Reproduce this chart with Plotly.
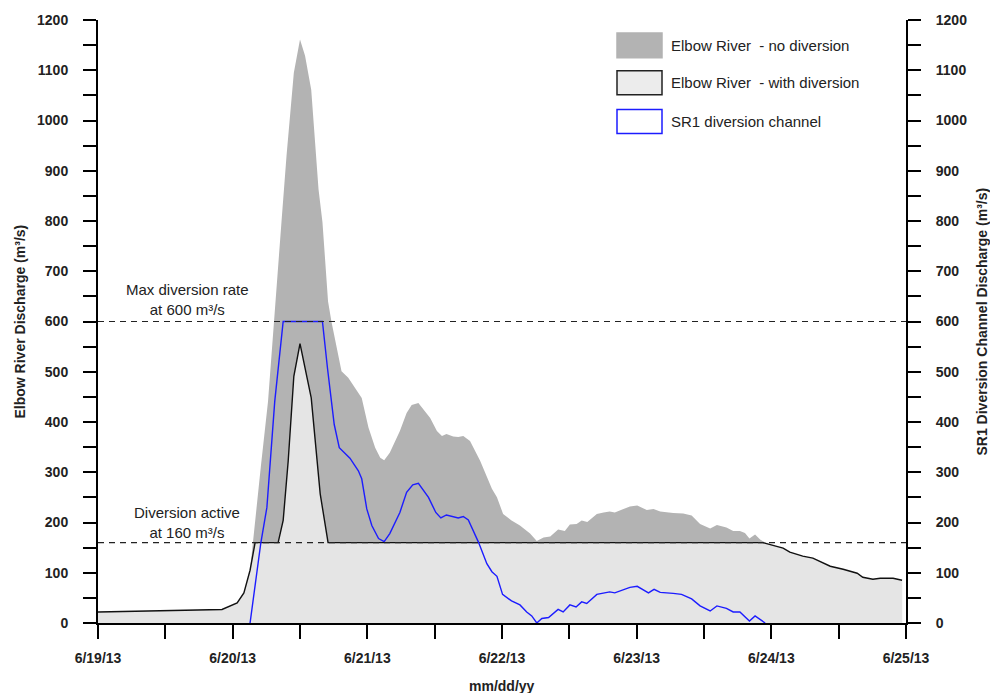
import pandas as pd
import plotly.graph_objects as go

BASE = pd.Timestamp("2013-06-19 00:00")

# Elbow River - no diversion (hours after 6/19/13 00:00, m3/s)
nodiv_hours = [0, 11, 22.1, 24.8, 26, 27.1, 27.6, 29, 30.3, 31.7, 32.7, 33.6, 34.7, 34.9, 36,
               36.9, 38, 39.3, 40, 41, 41.6, 42.5, 43.4, 44.6, 45.8, 47, 48.2, 49.4, 50.3, 51,
               52, 53.8, 55, 55.9, 57.1, 59.2, 60.4, 61.3, 62.1, 63.3, 64.2, 65.1, 66.3, 68.1,
               70.2, 71.1, 72.2, 73.7, 75.2, 77, 78.2, 79.4, 80.6, 82, 83.2, 84.1, 85.3, 86.2,
               87.2, 88.9, 90.1, 91.2, 92.1, 93.6, 94.8, 96.1, 97.8, 99, 100.2, 102.5, 104.3,
               105.8, 107.3, 109.1, 110.3, 112, 113.2, 114.4, 115.3, 116.1, 117.1, 118, 118.9,
               120.3, 122.1, 123.3, 125.6, 127.4, 130.5, 132.8, 135.3, 136.3, 138.1, 139.4,
               141.7, 143.3]
nodiv_vals = [22, 24, 27, 40, 60, 105, 160, 309, 441, 640, 798, 930, 1061, 1095, 1161,
              1129, 1061, 863, 798, 640, 600, 547, 501, 488, 468, 448, 389, 349, 329, 324,
              339, 382, 418, 434, 438, 408, 382, 372, 376, 371, 370, 372, 362, 323,
              267, 250, 217, 204, 194, 178, 163, 170, 172, 186, 183, 196, 197, 204,
              201, 217, 220, 222, 220, 227, 232, 234, 225, 227, 222, 219, 218,
              214, 197, 188, 195, 190, 183, 183, 179, 168, 176, 166, 160,
              154, 149, 141, 133, 129, 113, 107, 99, 91, 87, 89,
              89, 85]

# Elbow River - with diversion
withdiv_hours = [0, 11, 22.1, 24.8, 26, 27.1, 28, 32.1, 33, 33.9, 34.9, 36, 38, 39.6, 41,
                 118.5, 120.3, 122.1, 123.3, 125.6, 127.4, 130.5, 132.8, 135.3, 136.3, 138.1,
                 139.4, 141.7, 143.3]
withdiv_vals = [22, 24, 27, 40, 60, 105, 160, 160, 204, 323, 491, 556, 448, 257, 160,
                160, 154, 149, 141, 133, 129, 113, 107, 99, 91, 87,
                89, 89, 85]

# SR1 diversion channel
sr1_hours = [27.1, 29, 30.1, 31.5, 33, 40, 40.9, 42.1, 43, 44.9, 46.4, 47, 47.9, 48.8, 50,
             51, 52, 53.8, 55, 56.1, 57.1, 58.9, 60.2, 61.1, 62.1, 63.3, 64.2, 65.1, 66,
             67.8, 69.3, 70.2, 71.1, 72.1, 73.7, 75.2, 76.4, 77.3, 78.2, 79.1, 80.3, 82,
             82.9, 84.1, 85.2, 86.2, 87.1, 88.9, 90.1, 91.2, 92.1, 93.6, 94.8, 96.1, 98.1,
             99.1, 100.2, 102.5, 104, 105.8, 107.3, 109.1, 110.3, 112, 113.2, 114.4, 116.1,
             117.1, 118.9]
sr1_vals = [0, 158, 230, 441, 600, 600, 507, 395, 349, 328, 303, 287, 227, 194, 168,
            162, 178, 220, 260, 275, 278, 250, 220, 209, 215, 211, 209, 212, 205,
            161, 118, 102, 93, 57, 44, 36, 22, 14, 0, 9, 11, 27,
            22, 36, 32, 42, 39, 57, 59, 62, 60, 67, 71, 73, 60,
            67, 61, 59, 57, 48, 34, 24, 34, 29, 22, 22, 4,
            14, 0]

# x ticks every 12 hours, labelled each day
tick_hours = list(range(0, 145, 12))
tick_labels = ["6/19/13", "", "6/20/13", "", "6/21/13", "", "6/22/13", "",
               "6/23/13", "", "6/24/13", "", "6/25/13"]
ytick_vals = list(range(0, 1201, 50))
ytick_labels = [str(v) if v % 100 == 0 else "" for v in ytick_vals]

MAX_RATE = 600
ACTIVE_RATE = 160


def to_time(hours):
    return [BASE + pd.Timedelta(hours=h) for h in hours]


FONT = "Liberation Sans, Arial, sans-serif"
DARK = "#b3b3b3"
LIGHT = "#e5e5e5"
BLUE = "#1c1cff"
TXT = "#222222"

fig = go.Figure()
fig.add_trace(go.Scatter(x=to_time(nodiv_hours), y=nodiv_vals, mode="lines",
                         line=dict(width=0, color=DARK), fill="tozeroy",
                         fillcolor=DARK, showlegend=False, hoverinfo="skip"))
fig.add_trace(go.Scatter(x=to_time(withdiv_hours), y=withdiv_vals, mode="lines",
                         line=dict(width=1.4, color="#111111"), fill="tozeroy",
                         fillcolor=LIGHT, showlegend=False))
fig.add_trace(go.Scatter(x=to_time(sr1_hours), y=sr1_vals, mode="lines",
                         line=dict(width=1.4, color=BLUE), yaxis="y2",
                         showlegend=False))

x0 = BASE
x1 = BASE + pd.Timedelta(hours=144)
for lvl in (MAX_RATE, ACTIVE_RATE):
    fig.add_shape(type="line", xref="x", yref="y", x0=x0, x1=x1, y0=lvl, y1=lvl,
                  line=dict(color=TXT, width=1.2, dash="6px,5px"), layer="above")

tickfont = dict(family=FONT, size=14, color=TXT, weight="bold")
axis_common = dict(range=[0, 1200], tickmode="array", tickvals=ytick_vals,
                   ticktext=ytick_labels, ticks="outside", ticklen=13, tickwidth=1.6,
                   tickcolor="black", showline=True, linecolor="black", linewidth=2,
                   showgrid=False, zeroline=False, tickfont=tickfont,
                   ticklabelstandoff=12)

fig.update_layout(
    width=990, height=693,
    margin=dict(l=98, r=84, t=17, b=70),
    plot_bgcolor="white", paper_bgcolor="white",
    font=dict(family=FONT, size=15, color=TXT),
    xaxis=dict(range=[x0, x1], tickmode="array", tickvals=to_time(tick_hours),
               ticktext=tick_labels, ticks="outside", ticklen=14, tickwidth=1.6,
               tickcolor="black", showline=True, linecolor="black", linewidth=2,
               showgrid=False, zeroline=False, tickfont=tickfont, ticklabelstandoff=7),
    yaxis=dict(**axis_common),
    yaxis2=dict(overlaying="y", side="right", **axis_common),
)

titlefont = dict(family=FONT, size=14, color=TXT, weight="bold")
ann = []
ann.append(dict(text="Elbow River Discharge (m³/s)", xref="paper", yref="paper",
                x=(19 - 98) / 808, y=0.5, textangle=-90, showarrow=False,
                xanchor="center", yanchor="middle", font=titlefont))
ann.append(dict(text="SR1 Diversion Channel Discharge (m³/s)", xref="paper",
                yref="paper", x=(981 - 98) / 808, y=0.5, textangle=-90, showarrow=False,
                xanchor="center", yanchor="middle", font=titlefont))
ann.append(dict(text="mm/dd/yy", xref="paper", yref="paper", x=0.5, y=-(686 - 623) / 606,
                showarrow=False, xanchor="center", yanchor="middle", font=titlefont))
ann.append(dict(text="Max diversion rate<br>at 600 m³/s", xref="paper", yref="y",
                x=(187 - 98) / 808, y=MAX_RATE + 44, showarrow=False, xanchor="center",
                yanchor="middle", font=dict(family=FONT, size=15, color=TXT)))
ann.append(dict(text="Diversion active<br>at 160 m³/s", xref="paper", yref="y",
                x=(187 - 98) / 808, y=ACTIVE_RATE + 41, showarrow=False, xanchor="center",
                yanchor="middle", font=dict(family=FONT, size=15, color=TXT)))

# manual legend
legend_items = ["Elbow River&nbsp; - no diversion", "Elbow River&nbsp; - with diversion",
                "SR1 diversion channel"]
legend_fill = [DARK, "#ececec", "white"]
legend_line = [DARK, "#222222", BLUE]
legend_rows = [(30, 55), (68, 92), (107, 131)]


def px_x(v):
    return (v - 98) / 808


def px_y(v):
    return 1 - (v - 17) / 606


for name, fc, lc, (ya, yb) in zip(legend_items, legend_fill, legend_line, legend_rows):
    fig.add_shape(type="rect", xref="paper", yref="paper", x0=px_x(617), x1=px_x(662),
                  y0=px_y(yb), y1=px_y(ya), fillcolor=fc, line=dict(color=lc, width=1.5),
                  layer="above")
    ann.append(dict(text=name, xref="paper", yref="paper", x=px_x(669),
                    y=px_y((ya + yb) / 2), showarrow=False, xanchor="left",
                    yanchor="middle", font=dict(family=FONT, size=15, color=TXT)))

fig.update_layout(annotations=ann)
fig.write_html("out.html", config={"displayModeBar": False},
               post_script="document.body.style.margin='0';document.body.style.padding='0';")
